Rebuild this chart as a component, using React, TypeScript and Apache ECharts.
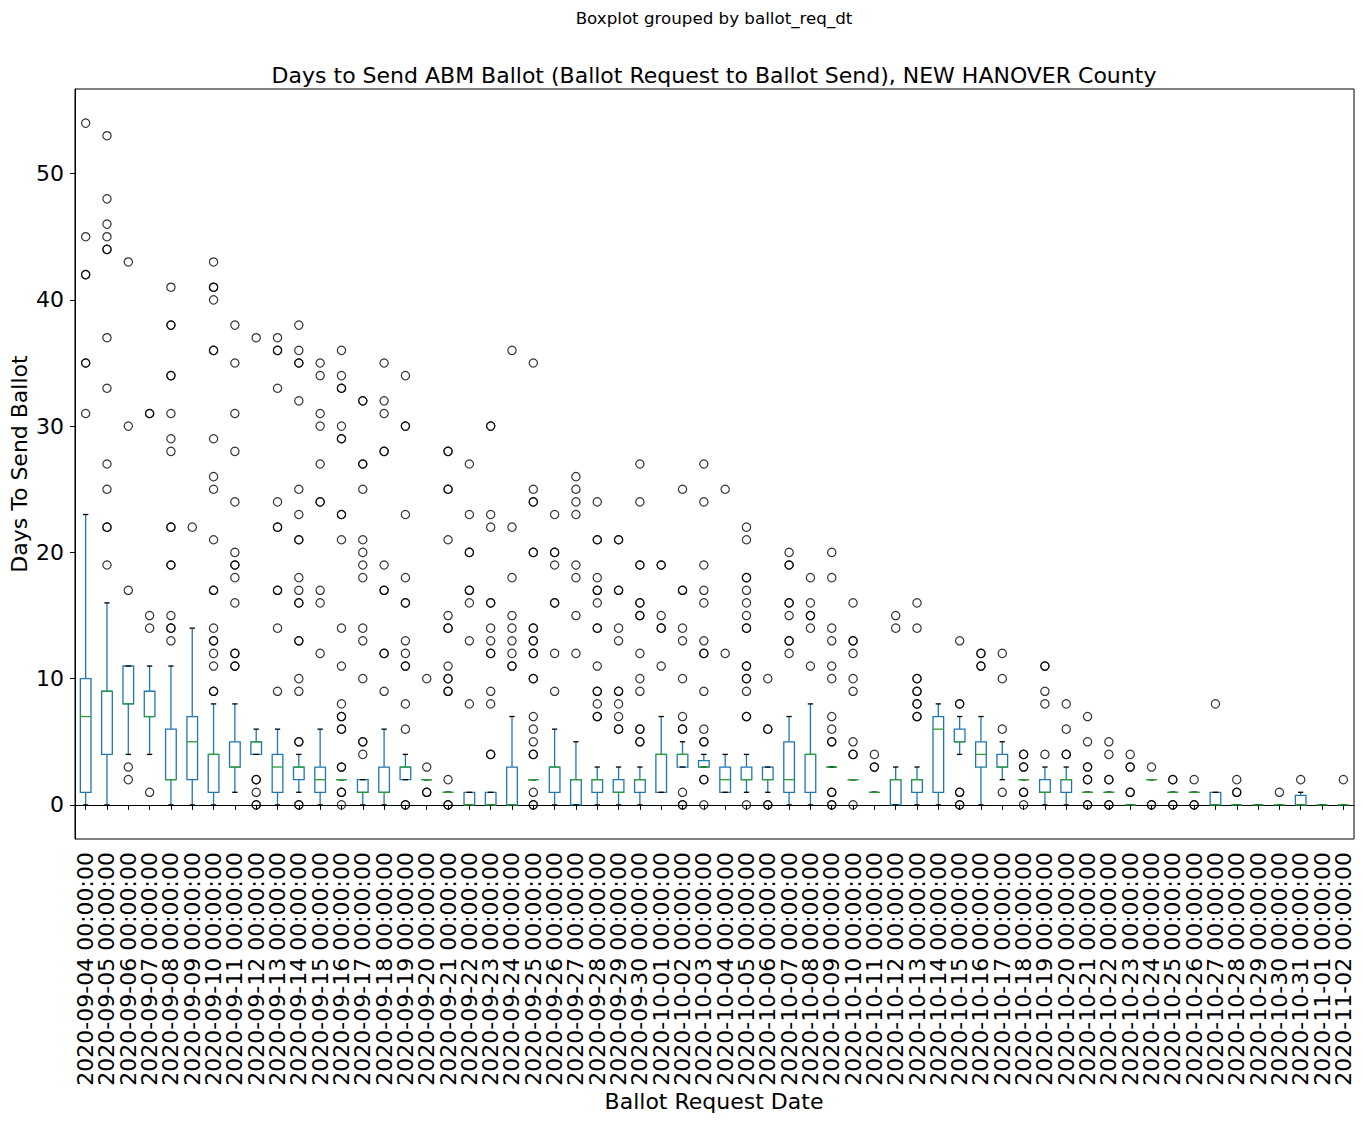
import React, { useEffect, useRef } from "react";
import * as echarts from "echarts";

const dates = [
  "2020-09-04", "2020-09-05", "2020-09-06", "2020-09-07", "2020-09-08", "2020-09-09", "2020-09-10", "2020-09-11", "2020-09-12", "2020-09-13",
  "2020-09-14", "2020-09-15", "2020-09-16", "2020-09-17", "2020-09-18", "2020-09-19", "2020-09-20", "2020-09-21", "2020-09-22", "2020-09-23",
  "2020-09-24", "2020-09-25", "2020-09-26", "2020-09-27", "2020-09-28", "2020-09-29", "2020-09-30", "2020-10-01", "2020-10-02", "2020-10-03",
  "2020-10-04", "2020-10-05", "2020-10-06", "2020-10-07", "2020-10-08", "2020-10-09", "2020-10-10", "2020-10-11", "2020-10-12", "2020-10-13",
  "2020-10-14", "2020-10-15", "2020-10-16", "2020-10-17", "2020-10-18", "2020-10-19", "2020-10-20", "2020-10-21", "2020-10-22", "2020-10-23",
  "2020-10-24", "2020-10-25", "2020-10-26", "2020-10-27", "2020-10-28", "2020-10-29", "2020-10-30", "2020-10-31", "2020-11-01", "2020-11-02",
];

const lowWhisker = [
  0, 0, 4, 4, 0, 0, 0, 1, 4, 0,
  1, 0, 2, 0, 0, 2, 2, 1, 0, 0,
  0, 2, 0, 0, 0, 0, 0, 1, 3, 3,
  1, 1, 1, 0, 0, 3, 2, 1, 0, 0,
  0, 4, 0, 2, 2, 0, 0, 1, 1, 0,
  2, 1, 1, 0, 0, 0, 0, 0, 0, 0,
];
const q1 = [
  1, 4, 8, 7, 2, 2, 1, 3, 4, 1,
  2, 1, 2, 1, 1, 2, 2, 1, 0, 0,
  0, 2, 1, 0, 1, 1, 1, 1, 3, 3,
  1, 2, 2, 1, 1, 3, 2, 1, 0, 1,
  1, 5, 3, 3, 2, 1, 1, 1, 1, 0,
  2, 1, 1, 0, 0, 0, 0, 0, 0, 0,
];
const median = [
  7, 9, 8, 7, 2, 5, 4, 3, 5, 3,
  3, 2, 2, 1, 1, 3, 2, 1, 0, 0,
  0, 2, 3, 2, 2, 1, 2, 4, 4, 3,
  2, 2, 2, 2, 4, 3, 2, 1, 2, 2,
  6, 5, 4, 3, 2, 1, 2, 1, 1, 0,
  2, 1, 1, 0, 0, 0, 0, 0, 0, 0,
];
const q3 = [
  10, 9, 11, 9, 6, 7, 4, 5, 5, 4,
  3, 3, 2, 2, 3, 3, 2, 1, 1, 1,
  3, 2, 3, 2, 2, 2, 2, 4, 4, 3.5,
  3, 3, 3, 5, 4, 3, 2, 1, 2, 2,
  7, 6, 5, 4, 2, 2, 2, 1, 1, 0,
  2, 1, 1, 1, 0, 0, 0, 0.75, 0, 0,
];
const highWhisker = [
  23, 16, 11, 11, 11, 14, 8, 8, 6, 6,
  4, 6, 2, 2, 6, 4, 2, 1, 1, 1,
  7, 2, 6, 5, 3, 3, 3, 7, 5, 4,
  4, 4, 3, 7, 8, 3, 2, 1, 3, 3,
  8, 7, 7, 5, 2, 3, 3, 1, 1, 0,
  2, 1, 1, 1, 0, 0, 0, 1, 0, 0,
];

const outliers: number[][] = [
  [54, 45, 42, 42, 35, 35, 31],
  [53, 48, 46, 45, 44, 44, 37, 33, 27, 25, 22, 22, 19],
  [43, 30, 17, 3, 2],
  [31, 31, 15, 14, 1],
  [41, 38, 38, 34, 34, 31, 29, 28, 22, 22, 19, 19, 15, 14, 14, 13],
  [22],
  [43, 41, 41, 40, 36, 36, 29, 26, 25, 21, 17, 17, 14, 13, 13, 12, 11, 9, 9],
  [38, 35, 31, 28, 24, 20, 19, 19, 18, 16, 12, 12, 11, 11],
  [37, 2, 2, 1, 0, 0],
  [37, 36, 36, 33, 24, 22, 22, 17, 17, 14, 9],
  [38, 36, 35, 35, 32, 25, 23, 21, 21, 18, 17, 16, 16, 13, 13, 10, 9, 5, 5, 0, 0],
  [35, 34, 31, 30, 27, 24, 24, 17, 16, 12],
  [36, 34, 33, 33, 30, 29, 29, 23, 23, 21, 14, 11, 8, 7, 7, 6, 6, 3, 3, 1, 1, 0],
  [32, 32, 27, 27, 25, 21, 20, 19, 18, 14, 13, 10, 5, 5, 4],
  [35, 32, 31, 28, 28, 19, 17, 17, 12, 12, 9],
  [34, 30, 30, 23, 18, 16, 16, 13, 12, 11, 11, 8, 6, 0, 0],
  [10, 3, 1, 1],
  [28, 28, 25, 25, 21, 15, 14, 14, 11, 10, 10, 9, 9, 2, 0, 0],
  [27, 23, 20, 20, 17, 17, 16, 13, 8],
  [30, 30, 23, 22, 16, 16, 14, 13, 12, 12, 9, 8, 4, 4],
  [36, 22, 18, 15, 14, 13, 12, 11, 11],
  [35, 25, 24, 24, 20, 20, 14, 14, 13, 13, 12, 12, 10, 10, 7, 6, 5, 4, 4, 1, 0, 0],
  [23, 20, 20, 19, 16, 16, 12, 9],
  [26, 25, 24, 23, 19, 18, 15, 12],
  [24, 21, 21, 18, 17, 17, 16, 14, 14, 11, 9, 9, 8, 7, 7],
  [21, 21, 17, 17, 14, 13, 9, 9, 8, 7, 6, 6],
  [27, 24, 19, 19, 16, 16, 15, 15, 12, 10, 9, 6, 6, 5, 5],
  [19, 19, 15, 14, 14, 11],
  [25, 17, 17, 14, 13, 10, 7, 6, 6, 1, 0, 0],
  [27, 24, 19, 17, 16, 13, 12, 12, 9, 6, 5, 5, 2, 2, 0],
  [25, 12],
  [22, 21, 18, 18, 17, 16, 15, 14, 14, 11, 11, 10, 10, 9, 7, 7, 0],
  [10, 6, 6, 0, 0],
  [20, 19, 19, 16, 16, 15, 13, 13, 12],
  [18, 16, 15, 15, 14, 11],
  [20, 18, 14, 13, 11, 10, 7, 6, 5, 5, 1, 1, 0, 0],
  [16, 13, 13, 12, 10, 9, 5, 4, 4, 0],
  [4, 3, 3],
  [15, 14],
  [16, 14, 10, 10, 9, 9, 8, 8, 7, 7],
  [],
  [13, 8, 8, 1, 1, 0, 0],
  [12, 12, 11, 11],
  [12, 10, 6, 1],
  [4, 4, 3, 3, 1, 1, 0],
  [11, 11, 9, 8, 4],
  [8, 6, 4, 4],
  [7, 5, 3, 3, 2, 2, 0, 0],
  [5, 4, 2, 2, 0, 0],
  [4, 3, 3, 1, 1],
  [3, 0, 0],
  [2, 2, 0, 0],
  [2, 0, 0],
  [8],
  [2, 1, 1],
  [],
  [1],
  [2],
  [],
  [2],
];

const yTicks = [0, 10, 20, 30, 40, 50];
const yMin = -2.7;
const yMax = 56.7;

const FONT = "DejaVu Sans";
const BLUE = "#1f77b4";
const GREEN = "#2ca02c";

export default function App() {
  const ref = useRef<HTMLDivElement>(null);

  useEffect(() => {
    if (!ref.current) return;
    const chart = echarts.init(ref.current, null, { renderer: "svg" });
    const labels = dates.map((d) => d + " 00:00:00");
    const boxData = dates.map((_, i) => [i, lowWhisker[i], q1[i], median[i], q3[i], highWhisker[i]]);
    const flierData: number[][] = [];
    outliers.forEach((arr, i) => arr.forEach((v) => flierData.push([i, v])));

    const lw = 1.3;

    const option: any = {
      animation: false,
      backgroundColor: "#fff",
      textStyle: { fontFamily: FONT },
      grid: {
        left: 75,
        top: 89,
        width: 1279,
        height: 750,
        show: true,
        borderColor: "#000",
        borderWidth: 1,
        backgroundColor: "transparent",
        containLabel: false,
      },
      xAxis: {
        type: "category",
        data: labels,
        boundaryGap: true,
        axisLine: { show: true, lineStyle: { color: "#000", width: 1 } },
        axisTick: { show: true, alignWithLabel: true, length: 5, lineStyle: { color: "#000", width: 1 } },
        axisLabel: {
          interval: 0,
          rotate: 90,
          fontSize: 22,
          color: "#000",
          fontFamily: FONT,
          margin: 13,
        },
        splitLine: { show: false },
      },
      yAxis: {
        type: "value",
        min: yMin,
        max: yMax,
        axisLine: { show: true, lineStyle: { color: "#000", width: 1 } },
        axisTick: { show: true, length: 5, customValues: yTicks, lineStyle: { color: "#000", width: 1 } },
        axisLabel: { customValues: yTicks, fontSize: 22, color: "#000", fontFamily: FONT, margin: 11 },
        splitLine: { show: false },
      },
      graphic: [
        {
          type: "text",
          x: 714,
          y: 18,
          style: {
            text: "Boxplot grouped by ballot_req_dt",
            fontSize: 16.7,
            fontFamily: FONT,
            fill: "#000",
            textAlign: "center",
            textVerticalAlign: "middle",
          },
        },
        {
          type: "text",
          x: 714,
          y: 75,
          style: {
            text: "Days to Send ABM Ballot (Ballot Request to Ballot Send), NEW HANOVER County",
            fontSize: 22,
            fontFamily: FONT,
            fill: "#000",
            textAlign: "center",
            textVerticalAlign: "middle",
          },
        },
        {
          type: "text",
          x: 19,
          y: 464,
          rotation: Math.PI / 2,
          style: {
            text: "Days To Send Ballot",
            fontSize: 22,
            fontFamily: FONT,
            fill: "#000",
            textAlign: "center",
            textVerticalAlign: "middle",
          },
        },
        {
          type: "text",
          x: 714,
          y: 1101,
          style: {
            text: "Ballot Request Date",
            fontSize: 22,
            fontFamily: FONT,
            fill: "#000",
            textAlign: "center",
            textVerticalAlign: "middle",
          },
        },
      ],
      series: [
        {
          type: "custom",
          data: boxData,
          encode: { x: 0, y: [1, 2, 3, 4, 5] },
          renderItem: (params: any, api: any) => {
            const i = api.value(0);
            const lo = api.coord([i, api.value(1)]);
            const a = api.coord([i, api.value(2)]);
            const m = api.coord([i, api.value(3)]);
            const b = api.coord([i, api.value(4)]);
            const hi = api.coord([i, api.value(5)]);
            const x = lo[0];
            const w = api.size([1, 0])[0] * 0.5;
            const cw = w * 0.5;
            return {
              type: "group",
              children: [
                {
                  type: "line",
                  shape: { x1: x, y1: a[1], x2: x, y2: lo[1] },
                  style: { stroke: BLUE, lineWidth: lw },
                },
                {
                  type: "line",
                  shape: { x1: x, y1: b[1], x2: x, y2: hi[1] },
                  style: { stroke: BLUE, lineWidth: lw },
                },
                {
                  type: "rect",
                  shape: { x: x - w / 2, y: b[1], width: w, height: a[1] - b[1] },
                  style: { fill: "none", stroke: BLUE, lineWidth: lw },
                },
                {
                  type: "line",
                  shape: { x1: x - cw / 2, y1: lo[1], x2: x + cw / 2, y2: lo[1] },
                  style: { stroke: "#000", lineWidth: lw },
                },
                {
                  type: "line",
                  shape: { x1: x - cw / 2, y1: hi[1], x2: x + cw / 2, y2: hi[1] },
                  style: { stroke: "#000", lineWidth: lw },
                },
                {
                  type: "line",
                  shape: { x1: x - w / 2, y1: m[1], x2: x + w / 2, y2: m[1] },
                  style: { stroke: GREEN, lineWidth: lw },
                },
              ],
            };
          },
          z: 2,
        },
        {
          type: "scatter",
          data: flierData,
          symbol: "circle",
          symbolSize: 8.3,
          itemStyle: { color: "rgba(0,0,0,0)", borderColor: "#000", borderWidth: 1.2 },
          z: 3,
        },
      ],
    };

    chart.setOption(option);
    return () => {
      chart.dispose();
    };
  }, []);

  return (
    <div
      ref={ref}
      style={{ position: "fixed", left: 0, top: 0, width: 1363, height: 1122, background: "#fff" }}
    />
  );
}
